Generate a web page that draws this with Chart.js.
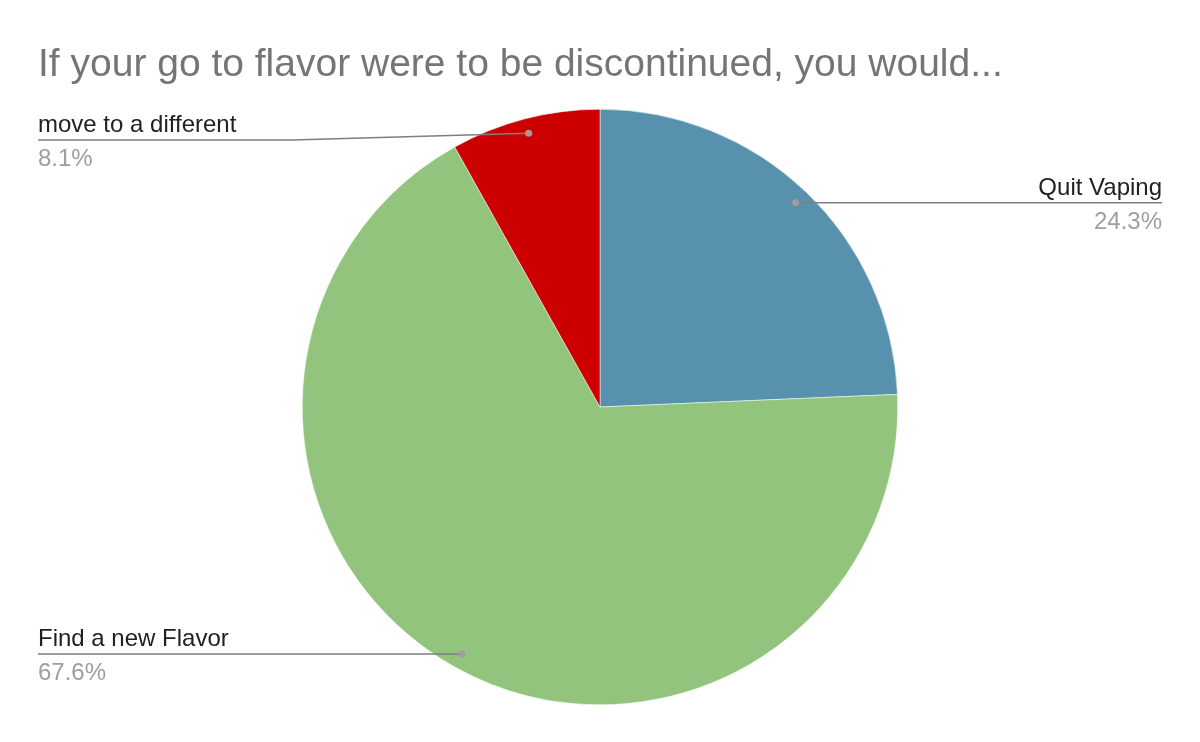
<!DOCTYPE html>
<html>
<head>
<meta charset="utf-8">
<script src="https://cdn.jsdelivr.net/npm/chart.js@4"></script>
<style>
html,body{margin:0;padding:0;background:#fff;}
#wrap{width:1200px;height:742px;position:relative;}
</style>
</head>
<body>
<div id="wrap"><canvas id="c" width="1200" height="742"></canvas></div>
<script>
const titleText = "If your go to flavor were to be discontinued, you would...";
const categories = ["Quit Vaping", "Find a new Flavor", "move to a different"];
const counts = [9, 25, 3];
const percentLabels = ["24.3%", "67.6%", "8.1%"];
const colors = ["#5891ad", "#93c47d", "#cc0000"];

const FONT = "'Liberation Sans', Arial, sans-serif";

const titlePlugin = {
  id: 'customTitle',
  afterDraw(chart) {
    const ctx = chart.ctx;
    ctx.save();
    ctx.font = "39px " + FONT;
    ctx.fillStyle = "#757575";
    ctx.textAlign = "left";
    ctx.textBaseline = "alphabetic";
    ctx.fillText(titleText, 38, 76);
    ctx.restore();
  }
};

const labelPlugin = {
  id: 'leaderLabels',
  afterDraw(chart) {
    const ctx = chart.ctx;
    const meta = chart.getDatasetMeta(0);
    meta.data.forEach((arc, i) => {
      const p = arc.getProps(['x','y','startAngle','endAngle','outerRadius'], true);
      const mid = (p.startAngle + p.endAngle) / 2;
      const r = p.outerRadius * 0.95;
      const dx = p.x + Math.cos(mid) * r;
      const dy = p.y + Math.sin(mid) * r;
      const right = Math.cos(mid) >= 0;
      const lineY = right ? dy : Math.max(dy, 140);
      const edgeX = right ? 1162 : 38;
      const bendX = right ? dx : Math.min(dx, 292);
      ctx.save();
      ctx.strokeStyle = "#7f7f7f";
      ctx.lineWidth = 1.5;
      ctx.beginPath();
      ctx.moveTo(dx, dy);
      ctx.lineTo(bendX, lineY);
      ctx.lineTo(edgeX, lineY);
      ctx.stroke();
      ctx.fillStyle = "#9e9e9e";
      ctx.beginPath();
      ctx.arc(dx, dy, 3.5, 0, Math.PI * 2);
      ctx.fill();
      ctx.font = "24px " + FONT;
      ctx.textAlign = right ? "right" : "left";
      ctx.textBaseline = "alphabetic";
      ctx.fillStyle = "#212121";
      ctx.fillText(chart.data.labels[i], edgeX, lineY - 8);
      ctx.fillStyle = "#9e9e9e";
      ctx.fillText(percentLabels[i], edgeX, lineY + 26);
      ctx.restore();
    });
  }
};

new Chart(document.getElementById('c'), {
  type: 'pie',
  data: {
    labels: categories,
    datasets: [{
      data: counts,
      backgroundColor: colors,
      borderColor: '#ffffff',
      borderWidth: 0.5
    }]
  },
  options: {
    responsive: false,
    animation: false,
    layout: { padding: { top: 109, bottom: 37, left: 302, right: 302 } },
    plugins: {
      legend: { display: false },
      title: { display: false },
      tooltip: { enabled: false }
    }
  },
  plugins: [titlePlugin, labelPlugin]
});
</script>
</body>
</html>
